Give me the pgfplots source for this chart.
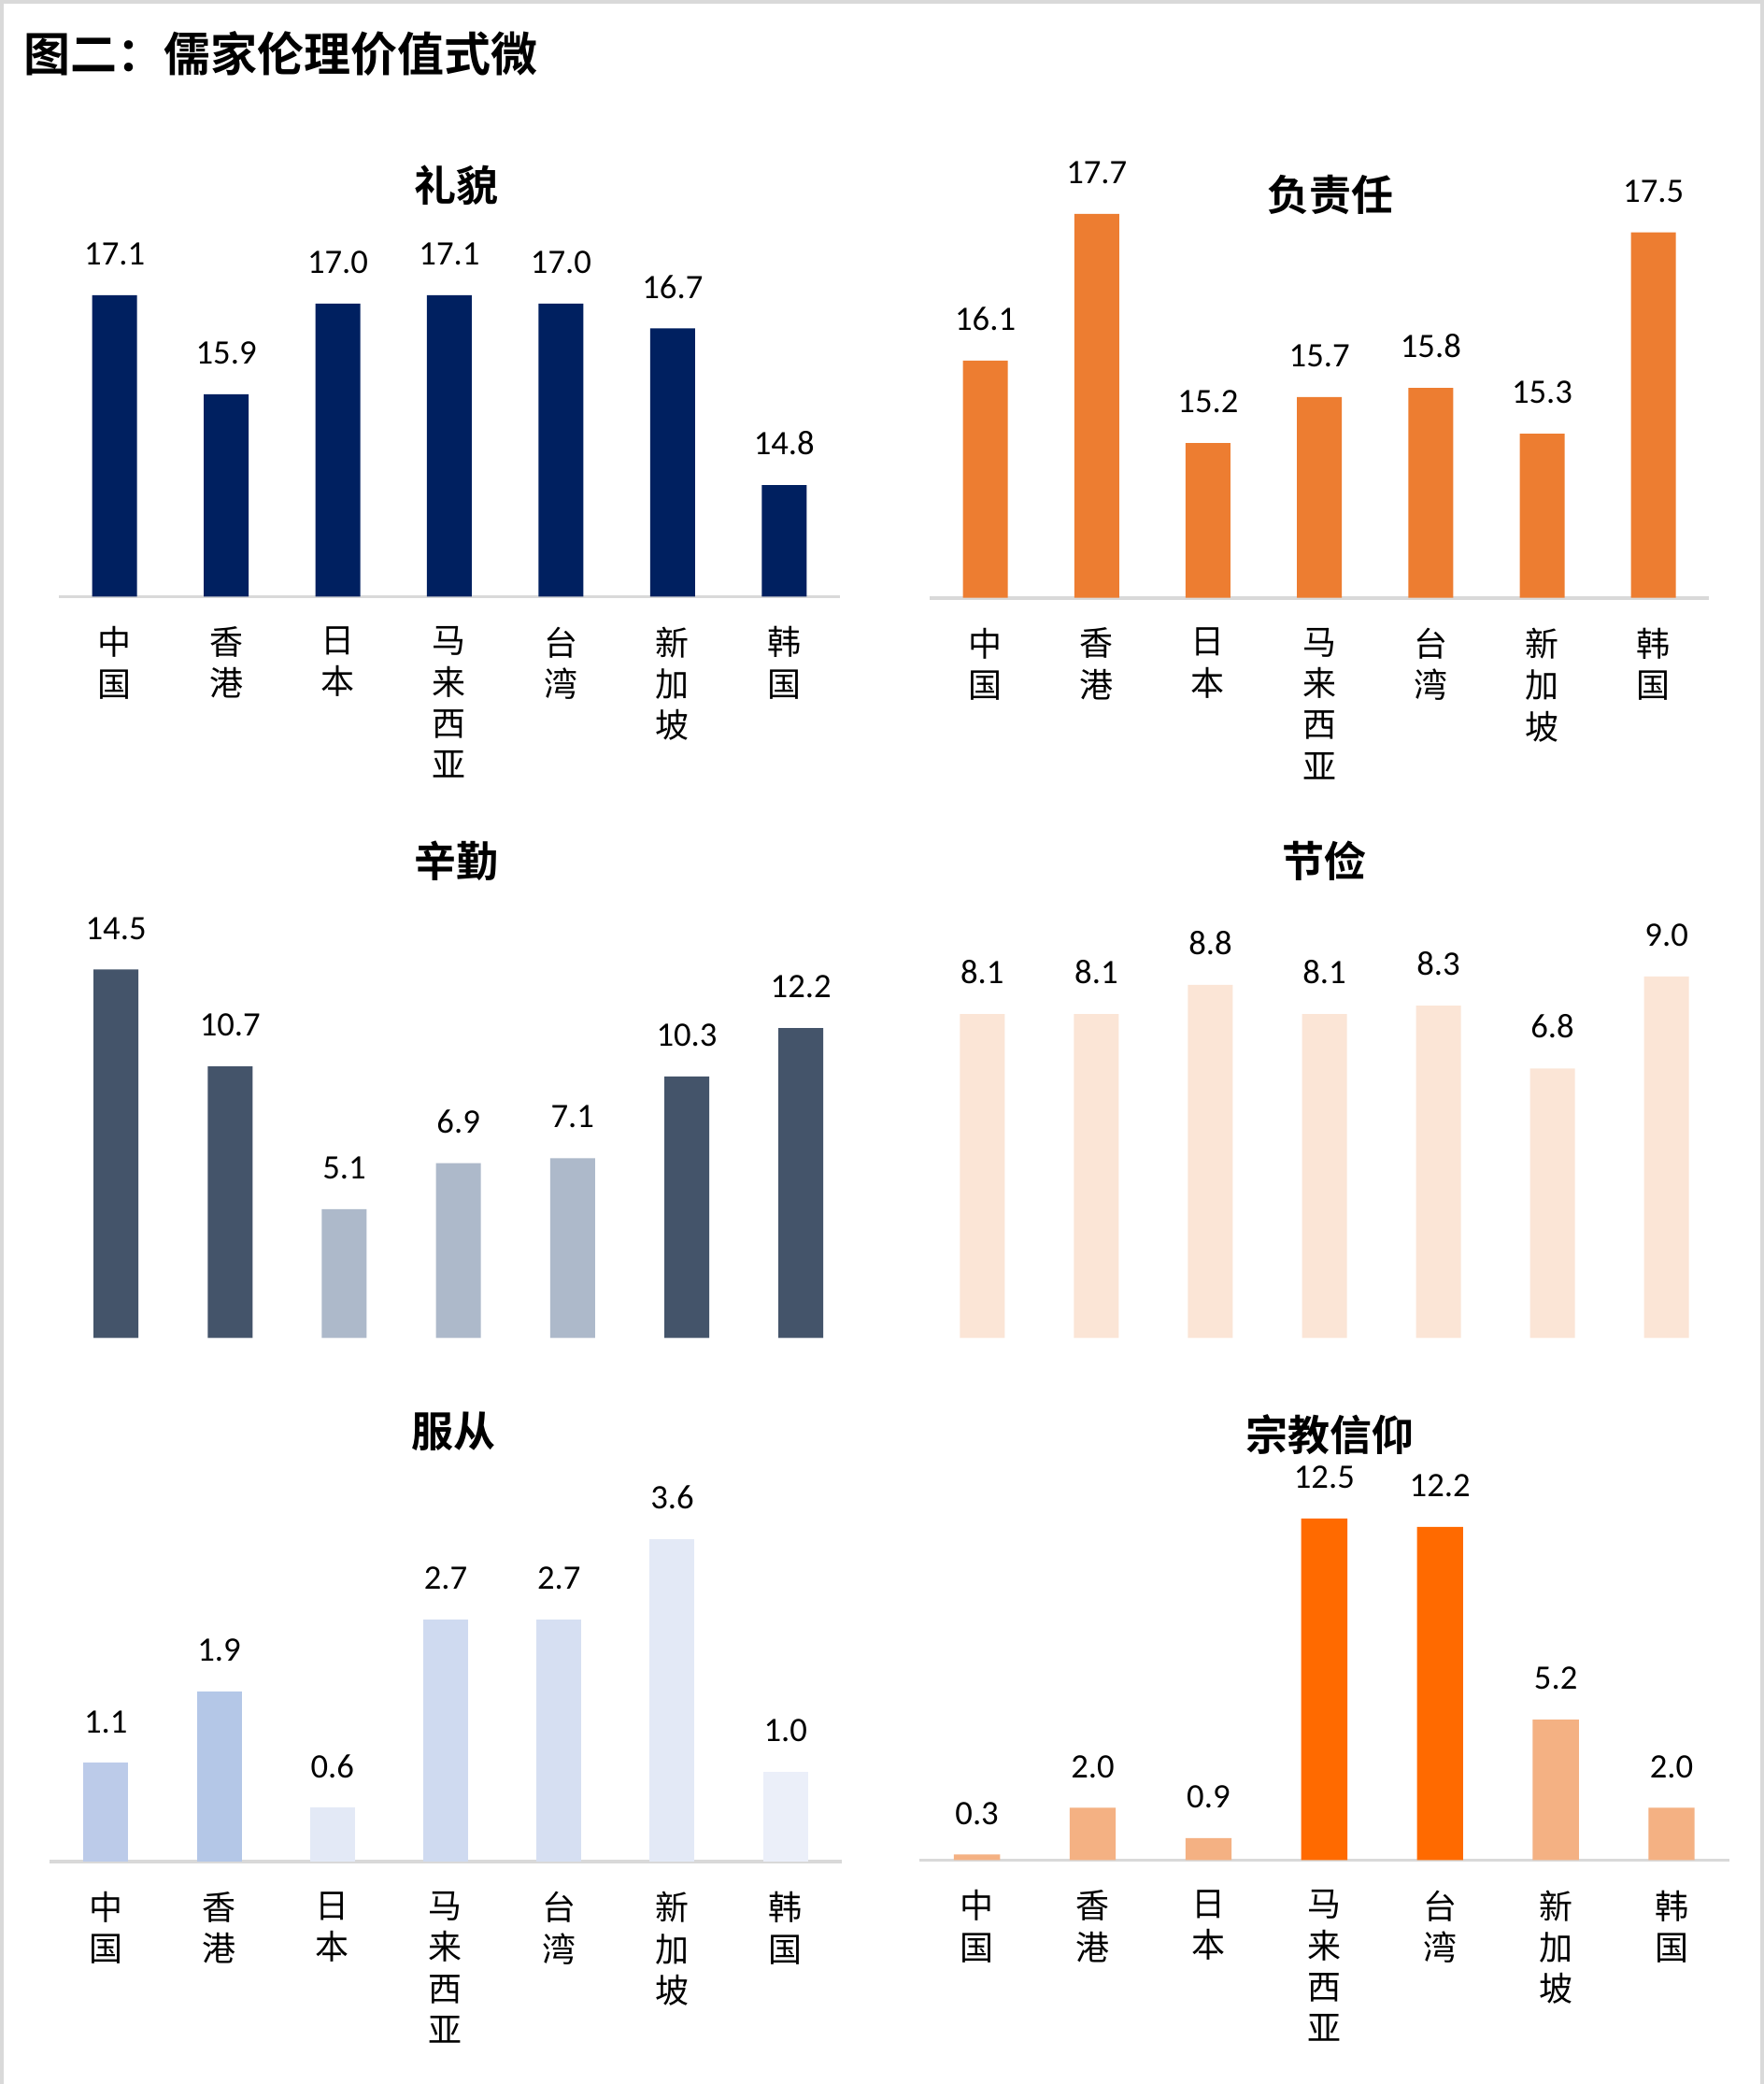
\documentclass[border=0pt]{standalone}
\usepackage{fontspec}
\usepackage{pgfplots}
\pgfplotsset{compat=1.18}
\setmainfont{Carlito}
\newfontfamily\cjk{Noto Sans CJK SC}
\newfontfamily\cjkb{Noto Sans CJK SC Bold}

\definecolor{navy}{HTML}{002060}
\definecolor{orng}{HTML}{ED7D31}
\definecolor{slate}{HTML}{44546A}
\definecolor{slatel}{HTML}{ADB9CA}
\definecolor{peach}{HTML}{FBE5D6}
\definecolor{bA}{HTML}{BCCBE9}
\definecolor{bB}{HTML}{B4C7E7}
\definecolor{bC}{HTML}{E3E9F6}
\definecolor{bD}{HTML}{CFDAF0}
\definecolor{bE}{HTML}{D6DFF2}
\definecolor{bF}{HTML}{E3E9F6}
\definecolor{bG}{HTML}{EBEFF9}
\definecolor{oL}{HTML}{F4B183}
\definecolor{oH}{HTML}{FF6A00}

\pgfplotsset{
  panel/.style={
    scale only axis, anchor=south west,
    ybar, bar width=14.4pt,
    xmin=-0.5, xmax=6.5,
    axis y line=none, axis x line*=bottom,
    x axis line style={draw=black!15, line width=1.1pt},
    xtick={0,...,6}, major tick length=0pt,
    ytick=\empty,
    xticklabels={{中\\国},{香\\港},{日\\本},{马\\来\\西\\亚},{台\\湾},{新\\加\\坡},{韩\\国}},
    xticklabel style={font=\cjk\fontsize{10.8}{13.3}\selectfont, align=center, anchor=north, inner sep=0pt, yshift=-9.5pt},
    /pgf/number format/assume math mode=true,
    nodes near coords={\pgfmathprintnumber[fixed,fixed zerofill,precision=1]{\pgfplotspointmeta}},
    every node near coord/.append style={font=\fontsize{11}{13}\selectfont, anchor=south, inner sep=0pt, yshift=9.4pt, text=black},
    every axis plot/.append style={draw=none, bar shift=0pt},
  },
  nolabels/.style={axis x line=none, xtick=\empty},
}

\begin{document}
\begin{tikzpicture}
\path[use as bounding box] (0,0) rectangle (566.4pt,-669pt);
\fill[white] (0,0) rectangle (566.4pt,-669pt);
\draw[black!15, line width=1.2pt] (0.6pt,-669pt) -- (0.6pt,-0.6pt) -- (565.8pt,-0.6pt) -- (565.8pt,-669pt);

\node[anchor=west, font=\cjkb\fontsize{15}{18}\selectfont, inner sep=0pt] at (7.5pt,-17.1pt) {图二：儒家伦理价值式微};

\node[font=\cjkb\fontsize{13.5}{16}\selectfont] at (146.6pt,-59.5pt) {礼貌};
\node[font=\cjkb\fontsize{13.5}{16}\selectfont] at (427.1pt,-62.7pt) {负责任};
\node[font=\cjkb\fontsize{13.5}{16}\selectfont] at (146.6pt,-276.5pt) {辛勤};
\node[font=\cjkb\fontsize{13.5}{16}\selectfont] at (425.3pt,-276.5pt) {节俭};
\node[font=\cjkb\fontsize{13.5}{16}\selectfont] at (145.7pt,-459.6pt) {服从};
\node[font=\cjkb\fontsize{13.5}{16}\selectfont] at (427.1pt,-460.5pt) {宗教信仰};

% 礼貌
\begin{axis}[panel, at={(18.9pt,-191.5pt)}, width=250.8pt, height=117.9pt, ymin=13.45, ymax=17.9]
\addplot[fill=navy] coordinates {(0,17.1) (1,15.9) (2,17.0) (3,17.1) (4,17.0) (5,16.7) (6,14.8)};
\end{axis}

% 负责任
\begin{axis}[panel, at={(298.5pt,-191.9pt)}, width=250.3pt, height=143.8pt, ymin=13.51, ymax=18.4]
\addplot[fill=orng] coordinates {(0,16.1) (1,17.7) (2,15.2) (3,15.7) (4,15.8) (5,15.3) (6,17.5)};
\end{axis}

% 辛勤
\begin{axis}[panel, nolabels, at={(18.9pt,-429.5pt)}, width=256.6pt, height=135.5pt, ymin=0.05, ymax=16.6]
\addplot[fill=slate] coordinates {(0,14.5) (1,10.7) (5,10.3) (6,12.2)};
\addplot[fill=slatel] coordinates {(2,5.1) (3,6.9) (4,7.1)};
\end{axis}

% 节俭
\begin{axis}[panel, nolabels, at={(297.1pt,-429.5pt)}, width=256.3pt, height=128.1pt, ymin=0.35, ymax=9.9]
\addplot[fill=peach] coordinates {(0,8.1) (1,8.1) (2,8.8) (3,8.1) (4,8.3) (5,6.8) (6,9.0)};
\end{axis}

% 服从
\begin{axis}[panel, at={(15.8pt,-597.6pt)}, width=254.6pt, height=123.8pt, ymin=0, ymax=4.3]
\addplot[fill=bA] coordinates {(0,1.1)};
\addplot[fill=bB] coordinates {(1,1.9)};
\addplot[fill=bC] coordinates {(2,0.6)};
\addplot[fill=bD] coordinates {(3,2.7)};
\addplot[fill=bE] coordinates {(4,2.7)};
\addplot[fill=bF] coordinates {(5,3.6)};
\addplot[fill=bG] coordinates {(6,1.0)};
\end{axis}

% 宗教信仰
\begin{axis}[panel, at={(295.1pt,-597.1pt)}, width=260.2pt, height=127.3pt, ymin=0.1, ymax=14.5, bar width=14.8pt]
\addplot[fill=oL] coordinates {(0,0.3) (1,2.0) (2,0.9) (5,5.2) (6,2.0)};
\addplot[fill=oH] coordinates {(3,12.5) (4,12.2)};
\end{axis}
\end{tikzpicture}
\end{document}
